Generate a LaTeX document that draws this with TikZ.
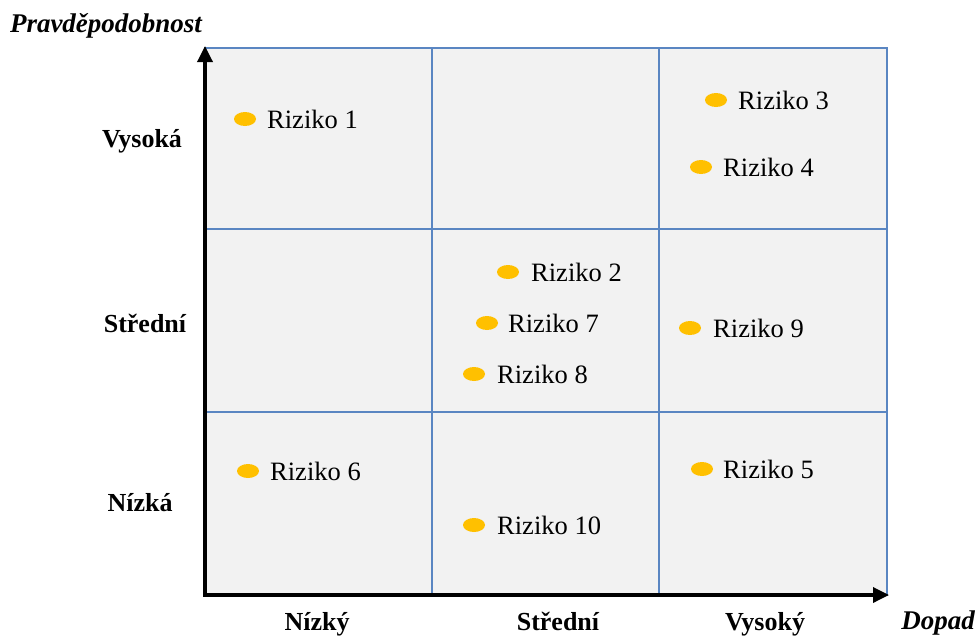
\documentclass[tikz,border=0pt]{standalone}
\usepackage{fontspec}
\setmainfont{Liberation Serif}
\usetikzlibrary{arrows.meta,shapes.geometric}
\definecolor{gridblue}{HTML}{5A86C2}
\definecolor{cellgray}{HTML}{F2F2F2}
\definecolor{dotyellow}{HTML}{FFC000}
\tikzset{
  dot/.style={ellipse, fill=dotyellow, minimum width=22pt, minimum height=14pt, inner sep=0pt},
  risk/.style={anchor=west, inner sep=0pt, font=\fontsize{26.5}{30}\selectfont},
  lvl/.style={anchor=base, inner sep=0pt, font=\fontsize{26}{30}\selectfont\bfseries},
  axname/.style={anchor=base, inner sep=0pt, font=\fontsize{27}{30}\selectfont\bfseries\itshape},
  gridline/.style={draw=gridblue, line width=2.6pt},
  axis/.style={line width=3.4pt, -{Triangle[length=16pt,width=15pt]}},
}
\begin{document}
\begin{tikzpicture}[x=1pt,y=-1pt]
\useasboundingbox (0,0) rectangle (980,635);
% grid
\fill[cellgray] (205,48) rectangle (887,595);
\draw[gridline] (205,48) rectangle (887,595);
\draw[gridline] (432,48) -- (432,595);
\draw[gridline] (659,48) -- (659,595);
\draw[gridline] (205,229) -- (887,229);
\draw[gridline] (205,412) -- (887,412);
% axes
\coordinate (o) at (205,595);
\coordinate (ytip) at (205,46);
\coordinate (xstart) at (203.3,595);
\coordinate (xtip) at (889,595);
\draw[axis] (o) -- (ytip);
\draw[axis] (xstart) -- (xtip);
% axis names
\node[axname] (py) at (106,32) {Pravděpodobnost};
\node[axname] (px) at (938,629) {Dopad};
% level labels
\node[lvl] (vy) at (142,147) {Vysoká};
\node[lvl] (sy) at (145,332) {Střední};
\node[lvl] (ny) at (140,511) {Nízká};
\node[lvl] (nx) at (317,630) {Nízký};
\node[lvl] (sx) at (558,630) {Střední};
\node[lvl] (vx) at (765,630) {Vysoký};
% risks
\node[dot] (d1) at (245,119) {};  \node[risk] (r1) at (267,119) {Riziko 1};
\node[dot] (d3) at (716,100) {};  \node[risk] (r3) at (738,100) {Riziko 3};
\node[dot] (d4) at (701,167) {};  \node[risk] (r4) at (723,167) {Riziko 4};
\node[dot] (d2) at (508,272) {};  \node[risk] (r2) at (531,272) {Riziko 2};
\node[dot] (d7) at (487,323) {};  \node[risk] (r7) at (508,323) {Riziko 7};
\node[dot] (d8) at (474,374) {};  \node[risk] (r8) at (497,374) {Riziko 8};
\node[dot] (d9) at (690,328) {};  \node[risk] (r9) at (713,328) {Riziko 9};
\node[dot] (d6) at (248,471) {};  \node[risk] (r6) at (270,471) {Riziko 6};
\node[dot] (d5) at (702,469) {};  \node[risk] (r5) at (723,469) {Riziko 5};
\node[dot] (d10) at (474,525) {}; \node[risk] (r10) at (497,525) {Riziko 10};
\end{tikzpicture}
\end{document}
